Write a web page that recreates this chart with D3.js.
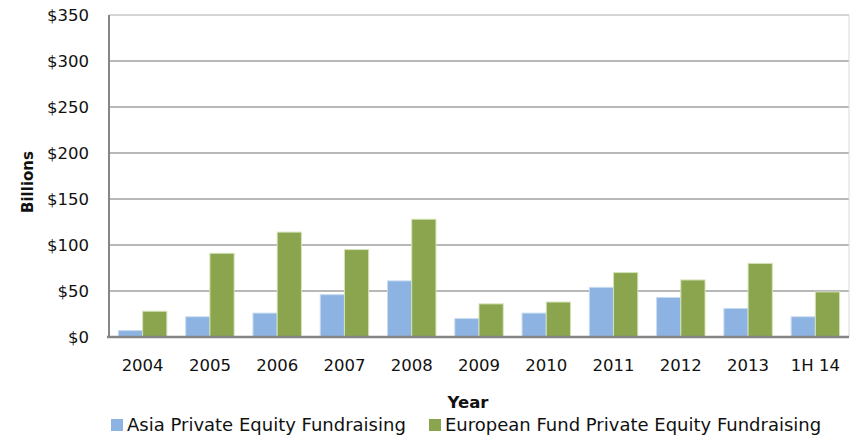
<!DOCTYPE html>
<html>
<head>
<meta charset="utf-8">
<script src="https://cdn.jsdelivr.net/npm/d3@7"></script>
<style>
  body { margin: 0; background: #fff; }
  text { font-family: "DejaVu Sans", sans-serif; fill: #111; }
</style>
</head>
<body>
<svg id="chart" width="853" height="436"></svg>
<script>
// chart data
var years = ["2004", "2005", "2006", "2007", "2008", "2009", "2010", "2011", "2012", "2013", "1H 14"];
var asiaValues = [7, 22, 26, 46, 61, 20, 26, 54, 43, 31, 22];
var europeValues = [28, 91, 114, 95, 128, 36, 38, 70, 62, 80, 49];
var seriesNames = ["Asia Private Equity Fundraising", "European Fund Private Equity Fundraising"];
var yTicks = [0, 50, 100, 150, 200, 250, 300, 350];

var colors = ["#8db3e2", "#8aa54d"];
var strokes = ["#c9dbf1", "#d4e2b8"];

var svg = d3.select("#chart");
var m = {left: 109, right: 4, top: 15, bottom: 99};
var W = 853, H = 436;
var plotW = W - m.left - m.right, plotH = H - m.top - m.bottom;

var g = svg.append("g").attr("transform", "translate(" + m.left + "," + m.top + ")");

var x = d3.scaleBand().domain(years).range([0, plotW]).paddingInner(0.28).paddingOuter(0.14);
var sub = d3.scaleBand().domain([0, 1]).range([0, x.bandwidth()]);
var y = d3.scaleLinear().domain([0, 350]).range([plotH, 0]);

// grid lines
g.selectAll(".grid").data(yTicks.slice(1)).enter().append("line")
    .attr("x1", 0).attr("x2", plotW)
    .attr("y1", function(d) { return y(d); }).attr("y2", function(d) { return y(d); })
    .attr("stroke", function(d) { return d === 350 ? "#c8c8c8" : "#a0a0a0"; })
    .attr("stroke-width", 1.5);

// right border
g.append("line").attr("x1", plotW).attr("x2", plotW).attr("y1", 0).attr("y2", plotH)
    .attr("stroke", "#d9d9d9").attr("stroke-width", 1);

// bars
var series = [asiaValues, europeValues];
series.forEach(function(vals, si) {
    g.selectAll(".bar" + si).data(vals).enter().append("rect")
        .attr("x", function(d, i) { return x(years[i]) + sub(si); })
        .attr("y", function(d) { return y(d); })
        .attr("width", sub.bandwidth())
        .attr("height", function(d) { return plotH - y(d); })
        .attr("fill", colors[si])
        .attr("stroke", strokes[si])
        .attr("stroke-width", 1);
});

// axes lines
g.append("line").attr("x1", 0).attr("x2", 0).attr("y1", 0).attr("y2", plotH)
    .attr("stroke", "#868686").attr("stroke-width", 2);
g.append("line").attr("x1", -2).attr("x2", plotW).attr("y1", plotH).attr("y2", plotH)
    .attr("stroke", "#868686").attr("stroke-width", 2.5);

// y tick labels
g.selectAll(".ylab").data(yTicks).enter().append("text")
    .attr("x", -20).attr("y", function(d) { return y(d); })
    .attr("dy", "0.35em").attr("text-anchor", "end")
    .style("font-size", "16.5px")
    .text(function(d) { return "$" + d; });

// x tick labels
g.selectAll(".xlab").data(years).enter().append("text")
    .attr("x", function(d) { return x(d) + x.bandwidth() / 2; })
    .attr("y", plotH + 34)
    .attr("text-anchor", "middle")
    .style("font-size", "16.5px")
    .text(function(d) { return d; });

// axis titles
svg.append("text").attr("transform", "translate(33,182) rotate(-90)")
    .attr("text-anchor", "middle").style("font-size", "15px").style("font-weight", "bold")
    .text("Billions");
svg.append("text").attr("x", 468).attr("y", 408)
    .attr("text-anchor", "middle").style("font-size", "16.5px").style("font-weight", "bold")
    .text("Year");

// legend
var legendX = [111, 429];
seriesNames.forEach(function(name, i) {
    svg.append("rect").attr("x", legendX[i]).attr("y", 419).attr("width", 12).attr("height", 12)
        .attr("fill", colors[i]);
    svg.append("text").attr("x", legendX[i] + 16).attr("y", 431)
        .style("font-size", "18px").text(name);
});
</script>
</body>
</html>
